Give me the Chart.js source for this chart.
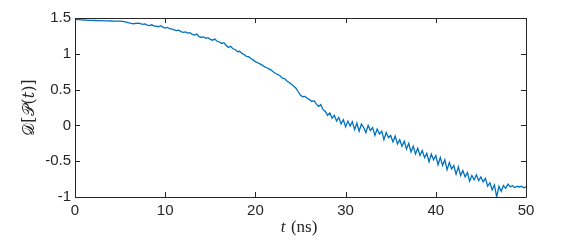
<!DOCTYPE html>
<html>
<head>
<meta charset="utf-8">
<script src="https://cdn.jsdelivr.net/npm/chart.js@4"></script>
<style>
  html, body { margin: 0; padding: 0; background: #fff; }
  #chart { display: block; }
</style>
</head>
<body>
<canvas id="chart" width="581" height="240"></canvas>
<script>
// sample step of the trace (ns)
const timeStep = 0.25;
const xTicks = [0, 10, 20, 30, 40, 50];
const yTicks = [-1, -0.5, 0, 0.5, 1, 1.5];

// D[P(t)], 4 samples per ns
const distance = [
    1.480, 1.478, 1.476, 1.474,   1.472, 1.470, 1.468, 1.467,
    1.466, 1.465, 1.464, 1.463,   1.462, 1.461, 1.460, 1.459,
    1.458, 1.457, 1.456, 1.455,   1.455, 1.452, 1.448, 1.440,
    1.432, 1.425, 1.420, 1.424,   1.428, 1.420, 1.412, 1.418,
    1.402, 1.395, 1.405, 1.390,   1.385, 1.378, 1.392, 1.372,
    1.360, 1.368, 1.350, 1.345,   1.335, 1.325, 1.330, 1.310,
    1.300, 1.305, 1.290, 1.295,   1.270, 1.262, 1.275, 1.240,
    1.228, 1.235, 1.215, 1.225,   1.200, 1.190, 1.205, 1.175,
    1.165, 1.145, 1.155, 1.120,   1.090, 1.105, 1.070, 1.060,
    1.030, 1.035, 1.005, 0.990,   0.965, 0.960, 0.935, 0.915,
    0.890, 0.875, 0.860, 0.842,   0.820, 0.805, 0.790, 0.772,
    0.745, 0.725, 0.710, 0.690,   0.660, 0.652, 0.620, 0.600,
    0.575, 0.548, 0.520, 0.470,   0.420, 0.400, 0.405, 0.380,
    0.360, 0.335, 0.345, 0.300,   0.265, 0.290, 0.220, 0.195,
    0.140, 0.175, 0.100, 0.140,   0.060, 0.110, 0.020, 0.080,
    -0.020, 0.060, -0.010, 0.050, -0.060, 0.030, -0.080, 0.020,
    -0.030, -0.100, 0.000, -0.070, -0.030, -0.140, -0.050, -0.120,
    -0.080, -0.200, -0.100, -0.170, -0.140, -0.230, -0.150, -0.260,
    -0.200, -0.290, -0.220, -0.330, -0.250, -0.370, -0.290, -0.400,
    -0.320, -0.420, -0.350, -0.450, -0.390, -0.510, -0.400, -0.480,
    -0.420, -0.550, -0.450, -0.560, -0.480, -0.620, -0.520, -0.610,
    -0.560, -0.680, -0.580, -0.700, -0.630, -0.720, -0.660, -0.780,
    -0.700, -0.760, -0.690, -0.770, -0.720, -0.790, -0.740, -0.850,
    -0.800, -0.900, -0.830, -1.000, -0.850, -0.920, -0.840, -0.880,
    -0.820, -0.860, -0.840, -0.870, -0.850, -0.860, -0.850, -0.870,
    -0.860
];

const axisColor = '#262626';
const points = distance.map((v, i) => ({ x: i * timeStep, y: v }));

Chart.defaults.font.family = '"Liberation Sans", Arial, sans-serif';
Chart.defaults.font.size = 15;
Chart.defaults.color = axisColor;

// box round the plot with inward ticks, plus the two axis titles
const matlabAxes = {
    id: 'matlabAxes',
    afterDraw(chart) {
        const ctx = chart.ctx;
        const a = chart.chartArea;
        const xs = chart.scales.x, ys = chart.scales.y;
        const len = 5;
        ctx.save();
        ctx.strokeStyle = axisColor;
        ctx.lineWidth = 1;
        ctx.beginPath();
        ctx.rect(a.left + 0.5, a.top + 0.5, a.right - a.left, a.bottom - a.top);
        xTicks.forEach(t => {
            const px = Math.round(xs.getPixelForValue(t)) + 0.5;
            ctx.moveTo(px, a.bottom); ctx.lineTo(px, a.bottom - len);
            ctx.moveTo(px, a.top); ctx.lineTo(px, a.top + len);
        });
        yTicks.forEach(t => {
            const py = Math.round(ys.getPixelForValue(t)) + 0.5;
            ctx.moveTo(a.left, py); ctx.lineTo(a.left + len, py);
            ctx.moveTo(a.right, py); ctx.lineTo(a.right - len, py);
        });
        ctx.stroke();

        // x title: italic t, upright (ns)
        ctx.fillStyle = axisColor;
        ctx.textBaseline = 'middle';
        ctx.textAlign = 'left';
        const tFont = 'italic 17px "Liberation Serif", "DejaVu Serif", serif';
        const nsFont = '17px "Liberation Serif", "DejaVu Serif", serif';
        ctx.font = tFont;
        const w1 = ctx.measureText('t ').width;
        ctx.font = nsFont;
        const w2 = ctx.measureText(' (ns)').width;
        const cx = (a.left + a.right) / 2;
        let x0 = cx - (w1 + w2) / 2;
        ctx.font = tFont;
        ctx.fillText('t', x0, 228);
        ctx.font = nsFont;
        ctx.fillText(' (ns)', x0 + w1 - 3, 228);

        // y title
        ctx.translate(30, (a.top + a.bottom) / 2);
        ctx.rotate(-Math.PI / 2);
        ctx.textAlign = 'center';
        ctx.font = '16px "DejaVu Serif", "Liberation Serif", serif';
        ctx.fillText('\u{1D49F}[\u{1D4AB}(\u{1D461})]', 0, 0);
        ctx.restore();
    }
};

new Chart(document.getElementById('chart'), {
    type: 'line',
    data: {
        datasets: [{
            data: points,
            borderColor: '#0072BD',
            borderWidth: 1.3,
            pointRadius: 0,
            tension: 0,
            fill: false
        }]
    },
    options: {
        responsive: false,
        animation: false,
        layout: { padding: { left: 0, top: 18, right: 55, bottom: 0 } },
        plugins: { legend: { display: false }, tooltip: { enabled: false } },
        scales: {
            x: {
                type: 'linear',
                min: 0, max: 50,
                afterFit(s) { s.height = 43; },
                afterBuildTicks(s) { s.ticks = xTicks.map(v => ({ value: v })); },
                grid: { display: false, drawTicks: false },
                border: { display: false },
                ticks: { padding: 5, maxRotation: 0, callback: v => String(v) }
            },
            y: {
                min: -1, max: 1.5,
                afterFit(s) { s.width = 75; },
                afterBuildTicks(s) { s.ticks = yTicks.map(v => ({ value: v })); },
                grid: { display: false, drawTicks: false },
                border: { display: false },
                ticks: { padding: 4, callback: v => String(v) }
            }
        }
    },
    plugins: [matlabAxes]
});
</script>
</body>
</html>
